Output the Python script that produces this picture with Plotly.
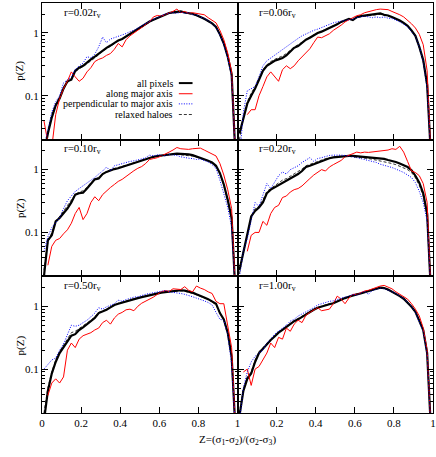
import plotly.graph_objects as go
from plotly.subplots import make_subplots

# bin centres in Z
z = [0.01, 0.03, 0.05, 0.07, 0.09, 0.11, 0.13, 0.15, 0.17, 0.19,
     0.21, 0.23, 0.25, 0.27, 0.29, 0.31, 0.33, 0.35, 0.37, 0.39,
     0.41, 0.43, 0.45, 0.47, 0.49, 0.51, 0.53, 0.55, 0.57, 0.59,
     0.61, 0.63, 0.65, 0.67, 0.69, 0.71, 0.73, 0.75, 0.77, 0.79,
     0.81, 0.83, 0.85, 0.87, 0.89, 0.91, 0.93, 0.95, 0.97, 0.99]

radii = ["0.02", "0.06", "0.10", "0.20", "0.50", "1.00"]

# r = 0.02 rv
all_002 = [0.012, 0.025, 0.045, 0.07, 0.09, 0.13, 0.17, 0.18, 0.25, 0.28,
           0.30, 0.34, 0.38, 0.42, 0.47, 0.53, 0.58, 0.63, 0.70, 0.76,
           0.80, 0.88, 0.97, 1.05, 1.17, 1.28, 1.40, 1.52, 1.62, 1.72,
           1.85, 1.95, 2.08, 2.12, 2.15, 2.20, 2.12, 2.08, 2.02, 1.92,
           1.82, 1.68, 1.55, 1.42, 1.25, 0.95, 0.68, 0.42, 0.22, 0.01]
major_002 = [0.04, 0.018, 0.015, 0.05, 0.09, 0.13, 0.17, 0.24, 0.20, 0.17,
             0.19, 0.24, 0.28, 0.35, 0.38, 0.40, 0.44, 0.47, 0.55, 0.68,
             0.60, 0.78, 0.90, 1.00, 1.10, 1.20, 1.35, 1.50, 1.80, 1.90,
             1.85, 1.95, 2.10, 2.20, 2.40, 2.10, 2.20, 2.05, 2.10, 2.05,
             2.05, 1.95, 1.75, 1.60, 1.45, 1.10, 0.78, 0.48, 0.24, 0.01]
perp_002 = [0.015, 0.03, 0.055, 0.08, 0.10, 0.16, 0.18, 0.20, 0.26, 0.30,
            0.33, 0.42, 0.40, 0.46, 0.60, 0.86, 0.70, 0.80, 0.84, 0.88,
            0.92, 0.98, 1.05, 1.10, 1.20, 1.30, 1.45, 1.55, 1.65, 1.75,
            1.85, 2.00, 2.05, 2.10, 2.05, 2.15, 2.05, 2.10, 1.95, 1.95,
            1.80, 1.70, 1.55, 1.40, 1.22, 0.92, 0.65, 0.40, 0.20, 0.01]
relax_002 = [0.012, 0.028, 0.05, 0.075, 0.095, 0.14, 0.16, 0.19, 0.24, 0.27,
             0.29, 0.32, 0.36, 0.40, 0.45, 0.52, 0.56, 0.62, 0.68, 0.74,
             0.80, 0.86, 0.95, 1.05, 1.15, 1.27, 1.38, 1.50, 1.62, 1.74,
             1.86, 1.96, 2.05, 2.10, 2.12, 2.15, 2.10, 2.05, 2.00, 1.90,
             1.80, 1.66, 1.52, 1.40, 1.22, 0.93, 0.66, 0.41, 0.21, 0.01]

# r = 0.06 rv
all_006 = [0.025, 0.045, 0.075, 0.10, 0.13, 0.18, 0.25, 0.30, 0.33, 0.36,
           0.38, 0.40, 0.44, 0.50, 0.58, 0.62, 0.70, 0.78, 0.84, 0.92,
           1.00, 1.05, 1.12, 1.20, 1.30, 1.38, 1.50, 1.60, 1.68, 1.60,
           1.78, 1.85, 1.88, 1.92, 1.95, 2.00, 2.05, 1.95, 1.90, 1.80,
           1.70, 1.58, 1.45, 1.30, 1.10, 0.90, 0.60, 0.37, 0.15, 0.01]
major_006 = [None, None, 0.05, 0.06, 0.06, 0.10, 0.14, 0.20, 0.24, 0.20,
             0.17, 0.26, 0.30, 0.27, 0.30, 0.36, 0.42, 0.50, 0.56, 0.70,
             0.86, 0.84, 0.90, 0.97, 1.10, 1.20, 1.33, 1.50, 1.60, 1.75,
             1.88, 1.95, 2.10, 2.20, 2.30, 2.35, 2.40, 2.40, 2.35, 2.20,
             2.10, 1.95, 1.80, 1.60, 1.40, 1.20, 0.95, 0.65, 0.25, 0.01]
perp_006 = [0.01, 0.055, 0.12, 0.13, 0.14, 0.20, 0.30, 0.36, 0.40, 0.45,
            0.50, 0.55, 0.60, 0.68, 0.75, 0.82, 0.90, 0.97, 1.02, 1.10,
            1.15, 1.22, 1.30, 1.38, 1.45, 1.50, 1.55, 1.60, 1.62, 1.65,
            1.75, 1.80, 1.85, 1.80, 1.75, 1.80, 1.75, 1.80, 1.72, 1.70,
            1.62, 1.50, 1.38, 1.25, 1.05, 0.88, 0.60, 0.35, 0.13, 0.01]
relax_006 = [0.02, 0.045, 0.08, 0.11, 0.14, 0.19, 0.26, 0.31, 0.35, 0.38,
             0.40, 0.43, 0.47, 0.53, 0.60, 0.65, 0.72, 0.80, 0.86, 0.93,
             1.00, 1.06, 1.14, 1.22, 1.30, 1.40, 1.50, 1.58, 1.65, 1.65,
             1.75, 1.82, 1.85, 1.90, 1.92, 1.95, 1.98, 1.92, 1.86, 1.78,
             1.68, 1.56, 1.42, 1.28, 1.08, 0.88, 0.58, 0.35, 0.14, 0.01]

# r = 0.10 rv
all_010 = [0.02, 0.075, 0.09, 0.15, 0.17, 0.20, 0.24, 0.30, 0.40, 0.42,
           0.43, 0.50, 0.60, 0.70, 0.72, 0.85, 0.92, 0.98, 1.02, 1.05,
           1.10, 1.15, 1.20, 1.27, 1.35, 1.40, 1.48, 1.55, 1.60, 1.65,
           1.68, 1.72, 1.78, 1.80, 1.80, 1.78, 1.78, 1.75, 1.70, 1.62,
           1.55, 1.48, 1.38, 1.30, 1.15, 0.88, 0.58, 0.33, 0.17, 0.01]
major_010 = [None, 0.03, 0.06, 0.075, 0.08, 0.095, 0.11, 0.14, 0.20, 0.25,
             0.16, 0.20, 0.30, 0.37, 0.32, 0.40, 0.46, 0.52, 0.58, 0.65,
             0.70, 0.78, 0.88, 0.96, 1.05, 1.12, 1.25, 1.45, 1.50, 1.55,
             1.65, 1.75, 1.90, 2.05, 2.25, 2.15, 2.10, 2.10, 2.15, 2.20,
             2.20, 2.05, 1.90, 1.75, 1.65, 1.25, 0.82, 0.48, 0.24, 0.01]
perp_010 = [0.05, 0.085, 0.12, 0.14, 0.17, 0.24, 0.32, 0.38, 0.45, 0.50,
            0.55, 0.62, 0.68, 0.75, 0.85, 0.95, 1.10, 0.95, 1.15, 1.20,
            1.25, 1.30, 1.35, 1.38, 1.42, 1.48, 1.55, 1.70, 1.65, 1.72,
            1.70, 1.65, 1.75, 1.72, 1.68, 1.60, 1.55, 1.52, 1.50, 1.45,
            1.48, 1.40, 1.32, 1.20, 1.05, 0.68, 0.42, 0.25, 0.12, 0.01]
relax_010 = [0.025, 0.07, 0.10, 0.15, 0.18, 0.22, 0.26, 0.32, 0.40, 0.44,
             0.46, 0.52, 0.62, 0.70, 0.76, 0.86, 0.93, 1.00, 1.04, 1.08,
             1.12, 1.18, 1.22, 1.28, 1.35, 1.40, 1.48, 1.55, 1.60, 1.65,
             1.66, 1.70, 1.75, 1.76, 1.75, 1.73, 1.72, 1.68, 1.64, 1.58,
             1.52, 1.45, 1.36, 1.26, 1.12, 0.86, 0.56, 0.32, 0.16, 0.01]

# r = 0.20 rv
all_020 = [0.025, 0.05, 0.09, 0.18, 0.22, 0.25, 0.30, 0.42, 0.48, 0.52,
           0.58, 0.62, 0.67, 0.72, 0.78, 0.85, 0.95, 1.10, 1.15, 1.22,
           1.30, 1.38, 1.45, 1.52, 1.57, 1.60, 1.62, 1.65, 1.65, 1.65,
           1.63, 1.62, 1.60, 1.58, 1.55, 1.53, 1.50, 1.48, 1.42, 1.38,
           1.32, 1.25, 1.18, 1.10, 0.98, 0.80, 0.62, 0.42, 0.20, 0.01]
major_020 = [None, None, 0.05, 0.09, 0.10, 0.10, 0.15, 0.13, 0.20, 0.25,
             0.27, 0.36, 0.38, 0.44, 0.48, 0.50, 0.55, 0.62, 0.72, 0.82,
             0.90, 1.00, 0.95, 1.10, 1.20, 1.30, 1.40, 1.60, 1.70, 1.80,
             1.90, 1.85, 1.90, 1.88, 1.92, 1.95, 1.95, 2.00, 2.05, 2.15,
             2.10, 2.35, 1.90, 1.35, 0.95, 0.90, 0.80, 0.60, 0.30, 0.01]
perp_020 = [0.02, 0.05, 0.08, 0.15, 0.30, 0.26, 0.40, 0.60, 0.50, 0.65,
            0.80, 0.92, 0.85, 1.00, 1.08, 1.15, 1.30, 1.40, 1.55, 1.35,
            1.50, 1.55, 1.62, 1.68, 1.70, 1.72, 1.70, 1.68, 1.65, 1.60,
            1.55, 1.50, 1.45, 1.40, 1.35, 1.30, 1.22, 1.18, 1.12, 1.08,
            1.02, 0.97, 0.90, 0.82, 0.75, 0.62, 0.45, 0.30, 0.15, 0.01]
relax_020 = [0.022, 0.05, 0.09, 0.17, 0.24, 0.26, 0.33, 0.45, 0.50, 0.56,
             0.62, 0.68, 0.72, 0.78, 0.85, 0.92, 1.02, 1.15, 1.22, 1.28,
             1.35, 1.42, 1.50, 1.55, 1.60, 1.62, 1.63, 1.64, 1.62, 1.60,
             1.58, 1.55, 1.52, 1.50, 1.46, 1.42, 1.38, 1.34, 1.30, 1.25,
             1.20, 1.14, 1.06, 1.00, 0.90, 0.74, 0.56, 0.38, 0.18, 0.01]

# r = 0.50 rv
all_050 = [0.015, 0.045, 0.085, 0.13, 0.18, 0.22, 0.28, 0.34, 0.36, 0.42,
           0.46, 0.52, 0.58, 0.65, 0.78, 0.82, 0.88, 0.96, 1.05, 1.10,
           1.15, 1.20, 1.25, 1.32, 1.35, 1.40, 1.45, 1.50, 1.55, 1.60,
           1.65, 1.68, 1.72, 1.75, 1.78, 1.80, 1.78, 1.72, 1.65, 1.55,
           1.48, 1.38, 1.30, 1.20, 1.10, 0.78, 0.62, 0.38, 0.16, 0.01]
major_050 = [None, 0.038, 0.06, 0.07, 0.06, 0.075, 0.20, 0.26, 0.22, 0.30,
             0.34, 0.36, 0.38, 0.42, 0.45, 0.55, 0.60, 0.52, 0.65, 0.75,
             0.80, 0.88, 0.90, 0.85, 1.00, 1.12, 1.20, 1.30, 1.40, 1.55,
             1.70, 1.78, 1.72, 1.90, 1.85, 1.85, 2.05, 1.80, 1.70, 2.10,
             1.95, 1.85, 1.70, 1.60, 1.20, 1.10, 1.10, 0.50, 0.22, 0.01]
perp_050 = [0.10, 0.12, 0.14, 0.15, 0.20, 0.25, 0.35, 0.50, 0.48, 0.50,
            0.55, 0.60, 0.68, 0.78, 0.95, 0.90, 0.98, 1.05, 1.10, 1.25,
            1.20, 1.28, 1.35, 1.40, 1.42, 1.50, 1.55, 1.60, 1.65, 1.72,
            1.75, 1.78, 1.70, 1.68, 1.65, 1.60, 1.55, 1.50, 1.42, 1.35,
            1.30, 1.22, 1.15, 1.05, 0.80, 0.62, 0.60, 0.35, 0.12, 0.01]
relax_050 = [0.02, 0.05, 0.09, 0.14, 0.19, 0.24, 0.30, 0.38, 0.40, 0.44,
             0.48, 0.54, 0.60, 0.68, 0.80, 0.84, 0.90, 0.98, 1.06, 1.12,
             1.16, 1.22, 1.27, 1.32, 1.36, 1.42, 1.46, 1.52, 1.56, 1.62,
             1.66, 1.70, 1.72, 1.74, 1.76, 1.76, 1.74, 1.68, 1.60, 1.52,
             1.45, 1.36, 1.28, 1.18, 1.05, 0.80, 0.60, 0.36, 0.15, 0.01]

# r = 1.00 rv
all_100 = [0.018, 0.045, 0.07, 0.085, 0.13, 0.18, 0.21, 0.25, 0.29, 0.33,
           0.38, 0.42, 0.47, 0.52, 0.58, 0.62, 0.68, 0.75, 0.82, 0.88,
           0.95, 1.00, 1.05, 1.08, 1.12, 1.20, 1.28, 1.35, 1.42, 1.50,
           1.55, 1.60, 1.68, 1.75, 1.85, 1.90, 1.98, 1.95, 1.85, 1.72,
           1.58, 1.45, 1.32, 1.15, 0.98, 0.82, 0.60, 0.42, 0.18, 0.01]
major_100 = [None, 0.09, 0.10, 0.055, 0.10, 0.11, 0.14, 0.18, 0.26, 0.22,
             0.32, 0.30, 0.45, 0.40, 0.52, 0.60, 0.55, 0.72, 0.80, 0.88,
             0.95, 0.85, 0.88, 0.90, 1.10, 1.45, 1.30, 1.10, 1.35, 1.55,
             1.55, 1.65, 1.75, 1.80, 1.90, 2.00, 2.10, 2.15, 2.05, 1.90,
             1.70, 1.55, 1.45, 1.30, 1.10, 0.90, 0.70, 0.45, 0.20, 0.01]
perp_100 = [0.015, 0.05, 0.09, 0.13, 0.16, 0.18, 0.20, 0.26, 0.30, 0.36,
            0.40, 0.45, 0.50, 0.58, 0.62, 0.70, 0.75, 0.82, 0.88, 0.95,
            1.05, 1.10, 1.15, 1.20, 1.22, 1.30, 1.35, 1.40, 1.45, 1.55,
            1.50, 1.62, 1.72, 1.55, 1.80, 1.85, 1.95, 1.90, 1.82, 1.70,
            1.60, 1.45, 1.32, 1.15, 0.98, 0.80, 0.58, 0.40, 0.17, 0.01]
relax_100 = [0.02, 0.048, 0.075, 0.09, 0.14, 0.19, 0.22, 0.26, 0.30, 0.34,
             0.39, 0.43, 0.48, 0.53, 0.59, 0.64, 0.70, 0.77, 0.84, 0.90,
             0.96, 1.01, 1.06, 1.10, 1.14, 1.22, 1.30, 1.37, 1.44, 1.50,
             1.56, 1.62, 1.70, 1.76, 1.84, 1.88, 1.95, 1.92, 1.83, 1.70,
             1.57, 1.44, 1.30, 1.14, 0.97, 0.80, 0.60, 0.41, 0.18, 0.01]

panels = [
    (all_002, major_002, perp_002, relax_002),
    (all_006, major_006, perp_006, relax_006),
    (all_010, major_010, perp_010, relax_010),
    (all_020, major_020, perp_020, relax_020),
    (all_050, major_050, perp_050, relax_050),
    (all_100, major_100, perp_100, relax_100),
]

legend_names = ["all pixels", "along major axis", "perpendicular to major axis", "relaxed haloes"]
styles = [
    dict(color="black", width=2.2, dash="solid"),
    dict(color="#ff0000", width=1, dash="solid"),
    dict(color="#0000ff", width=1, dash="1px,1.5px"),
    dict(color="black", width=0.8, dash="3px,2px"),
]

FONT = "Liberation Serif, Times New Roman, Times, serif"

fig = make_subplots(rows=3, cols=2, horizontal_spacing=0, vertical_spacing=0)

for i, curves in enumerate(panels):
    row, col = i // 2 + 1, i % 2 + 1
    for name, ys, st in zip(legend_names, curves, styles):
        fig.add_trace(go.Scatter(x=z, y=ys, mode="lines", name=name, line=st,
                                 showlegend=False, hoverinfo="skip"),
                      row=row, col=col)
    suffix = "" if i == 0 else str(i + 1)
    fig.add_annotation(x=0.1, y=0.93, xref=f"x{suffix} domain", yref=f"y{suffix} domain",
                       text=f"r={radii[i]}r<sub>v</sub>", showarrow=False,
                       xanchor="left", yanchor="middle",
                       font=dict(family=FONT, size=11, color="black"))

# hand-drawn key in the first panel
key_y = [0.414, 0.336, 0.262, 0.184]
for name, st, ky in zip(legend_names, styles, key_y):
    fig.add_annotation(x=0.68, y=ky, xref="x domain", yref="y domain", text=name,
                       showarrow=False, xanchor="right", yanchor="middle",
                       font=dict(family=FONT, size=10, color="black"))
    fig.add_shape(type="line", xref="x domain", yref="y domain",
                  x0=0.70, x1=0.77, y0=ky, y1=ky,
                  line=dict(color=st["color"], width=min(st["width"], 2), dash=st["dash"]))

# y labels for each row
for ry in [0.835, 0.5, 0.165]:
    fig.add_annotation(x=-0.056, y=ry, xref="paper", yref="paper", text="p(Z)",
                       showarrow=False, textangle=-90, xanchor="center", yanchor="middle",
                       font=dict(family=FONT, size=11, color="black"))

fig.add_annotation(x=0.5, y=-0.066, xref="paper", yref="paper",
                   text="Z=(σ<sub>1</sub>-σ<sub>2</sub>)/(σ<sub>2</sub>-σ<sub>3</sub>)",
                   showarrow=False, xanchor="center", yanchor="middle",
                   font=dict(family=FONT, size=11, color="black"))

xticks = [0, 0.2, 0.4, 0.6, 0.8, 1]
minor_y = [0.02, 0.03, 0.04, 0.05, 0.06, 0.07, 0.08, 0.09,
           0.2, 0.3, 0.4, 0.5, 0.6, 0.7, 0.8, 0.9, 2, 3]

for i in range(6):
    row, col = i // 2 + 1, i % 2 + 1
    if row == 3:
        ttext = ["0", "0.2", "0.4", "0.6", "0.8", "1"] if col == 1 else ["", "0.2", "0.4", "0.6", "0.8", "1"]
        show_x = True
    else:
        ttext = [""] * 6
        show_x = False
    fig.update_xaxes(range=[0, 1], tickmode="array", tickvals=xticks, ticktext=ttext,
                     showticklabels=show_x, ticks="inside", ticklen=6, tickwidth=1,
                     tickcolor="black", showline=True, linecolor="black", linewidth=1,
                     mirror="ticks", showgrid=False, zeroline=False, automargin=False,
                     tickfont=dict(family=FONT, size=11, color="black"),
                     row=row, col=col)
    fig.update_yaxes(type="log", range=[-1.699, 0.477], tickmode="array",
                     tickvals=[0.1, 1], ticktext=["0.1", "1"],
                     showticklabels=(col == 1), ticks="inside", ticklen=6, tickwidth=1,
                     tickcolor="black", showline=True, linecolor="black", linewidth=1,
                     mirror="ticks", showgrid=False, zeroline=False, automargin=False,
                     minor=dict(tickmode="array", tickvals=minor_y, ticks="inside",
                                ticklen=3, tickcolor="black", showgrid=False),
                     tickfont=dict(family=FONT, size=11, color="black"),
                     row=row, col=col)

fig.update_layout(width=436, height=457, margin=dict(l=42, r=3, t=3, b=44),
                  paper_bgcolor="white", plot_bgcolor="white", showlegend=False,
                  font=dict(family=FONT, size=11, color="black"))

# the page body keeps its default 8px margin otherwise
fig.write_html("out.html", config={"displayModeBar": False},
               post_script="document.body.style.margin='0';")
